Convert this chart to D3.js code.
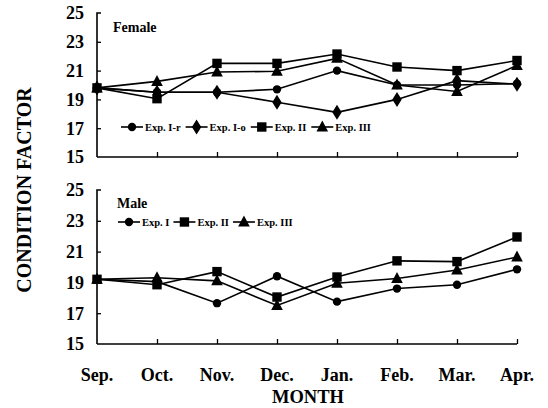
<!DOCTYPE html>
<html><head><meta charset="utf-8">
<script src="https://cdn.jsdelivr.net/npm/d3@7"></script>
<style>html,body{margin:0;padding:0;background:#fff;}svg{display:block;font-family:"Liberation Serif","Times New Roman",serif;font-weight:bold;}</style>
</head><body><svg id="c" width="548" height="408"></svg>
<script>
const months = ["Sep.","Oct.","Nov.","Dec.","Jan.","Feb.","Mar.","Apr."];
const yTicks = [15,17,19,21,23,25];

// Female
const femaleExpIr = [19.8,19.5,19.5,19.7,21.0,20.0,20.0,20.1];
const femaleExpIo = [19.8,19.5,19.5,18.8,18.1,19.0,20.3,20.05];
const femaleExpII = [19.8,19.05,21.5,21.5,22.15,21.25,21.0,21.7];
const femaleExpIII = [19.8,20.25,20.9,20.95,21.85,20.0,19.55,21.35];
// Male
const maleExpI = [19.2,19.05,17.65,19.4,17.75,18.6,18.85,19.85];
const maleExpII = [19.2,18.85,19.7,18.05,19.35,20.4,20.35,21.95];
const maleExpIII = [19.2,19.3,19.1,17.5,18.95,19.25,19.8,20.65];

const femaleSeries = [
  {name:"Exp. I-r", values:femaleExpIr, marker:"circle"},
  {name:"Exp. I-o", values:femaleExpIo, marker:"diamond"},
  {name:"Exp. II", values:femaleExpII, marker:"square"},
  {name:"Exp. III", values:femaleExpIII, marker:"triangle"}
];
const maleSeries = [
  {name:"Exp. I", values:maleExpI, marker:"circle"},
  {name:"Exp. II", values:maleExpII, marker:"square"},
  {name:"Exp. III", values:maleExpIII, marker:"triangle"}
];

const svg = d3.select("#c");
const x = d3.scalePoint().domain(months).range([97,517]);

function markerPath(type){
  if(type==="circle") return d3.symbol(d3.symbolCircle, 55)();
  if(type==="square") return "M-4.7,-4.7H4.7V4.7H-4.7Z";
  if(type==="diamond") return "M0,-7.5L4.7,0L0,7.5L-4.7,0Z";
  if(type==="triangle") return "M0,-6.5L5.8,4.5H-5.8Z";
}

function panel(series, y, label, labelPos, legendPos, legendGaps){
  const g = svg.append("g");
  const ya = g.append("g").attr("transform","translate(97,0)")
    .call(d3.axisRight(y).tickValues(yTicks).tickSize(4).tickFormat(""));
  ya.select(".domain").attr("d", `M4,${y(25)}H0V${y(15)}`).attr("stroke","#000").attr("stroke-width",1.6);
  ya.selectAll(".tick line").attr("stroke","#000").attr("stroke-width",1.3);
  ya.selectAll(".tick").filter(d=>d===15||d===25).select("line").remove();
  g.selectAll(".ylab").data(yTicks).join("text")
    .attr("x",84).attr("y",d=>y(d)).attr("dy","0.36em")
    .attr("text-anchor","end").attr("font-size",18).text(d=>d);
  const xa = g.append("g").attr("transform",`translate(0,${y(15)})`)
    .call(d3.axisTop(x).tickSize(5).tickFormat(""));
  xa.select(".domain").attr("d",`M97,0H517`).attr("stroke","#000").attr("stroke-width",1.6);
  xa.selectAll(".tick line").attr("stroke","#000").attr("stroke-width",1.3);
  xa.selectAll(".tick").filter(d=>d===months[0]).remove();
  const line = d3.line().x((d,i)=>x(months[i])).y(d=>y(d));
  series.forEach(s=>{
    g.append("path").attr("d",line(s.values)).attr("fill","none")
      .attr("stroke","#000").attr("stroke-width",1.6);
    g.selectAll(null).data(s.values).join("path")
      .attr("d",markerPath(s.marker))
      .attr("transform",(d,i)=>`translate(${x(months[i])},${y(d)})`)
      .attr("fill","#000");
  });
  g.append("text").attr("x",labelPos[0]).attr("y",labelPos[1]).attr("dy","0.35em")
    .attr("font-size",14).text(label);
  let lx = legendPos[0];
  const ly = legendPos[1];
  series.forEach((s,i)=>{
    g.append("line").attr("x1",lx).attr("x2",lx+22).attr("y1",ly).attr("y2",ly)
      .attr("stroke","#000").attr("stroke-width",1.6);
    g.append("path").attr("d",markerPath(s.marker)).attr("transform",`translate(${lx+11},${ly})`).attr("fill","#000");
    const t = g.append("text").attr("x",lx+24).attr("y",ly).attr("dy","0.35em")
      .attr("font-size",10.5).text(s.name);
    lx += 24 + t.node().getComputedTextLength() + legendGaps;
  });
}

const yTop = d3.scaleLinear().domain([15,25]).range([157,13]);
const yBot = d3.scaleLinear().domain([15,25]).range([344,190]);
panel(femaleSeries, yTop, "Female", [113,27], [121,127], 5);
panel(maleSeries, yBot, "Male", [117,203], [118,222], 4);

svg.selectAll(".mlab").data(months).join("text")
  .attr("x",d=>x(d)).attr("y",375).attr("dy","0.35em")
  .attr("text-anchor","middle").attr("font-size",18).text(d=>d);
svg.append("text").attr("x",308).attr("y",397).attr("dy","0.35em")
  .attr("text-anchor","middle").attr("font-size",18.5).text("MONTH");
svg.append("text").attr("transform","translate(24,190) rotate(-90)")
  .attr("dy","0.35em").attr("text-anchor","middle").attr("font-size",20).text("CONDITION FACTOR");
</script></body></html>
